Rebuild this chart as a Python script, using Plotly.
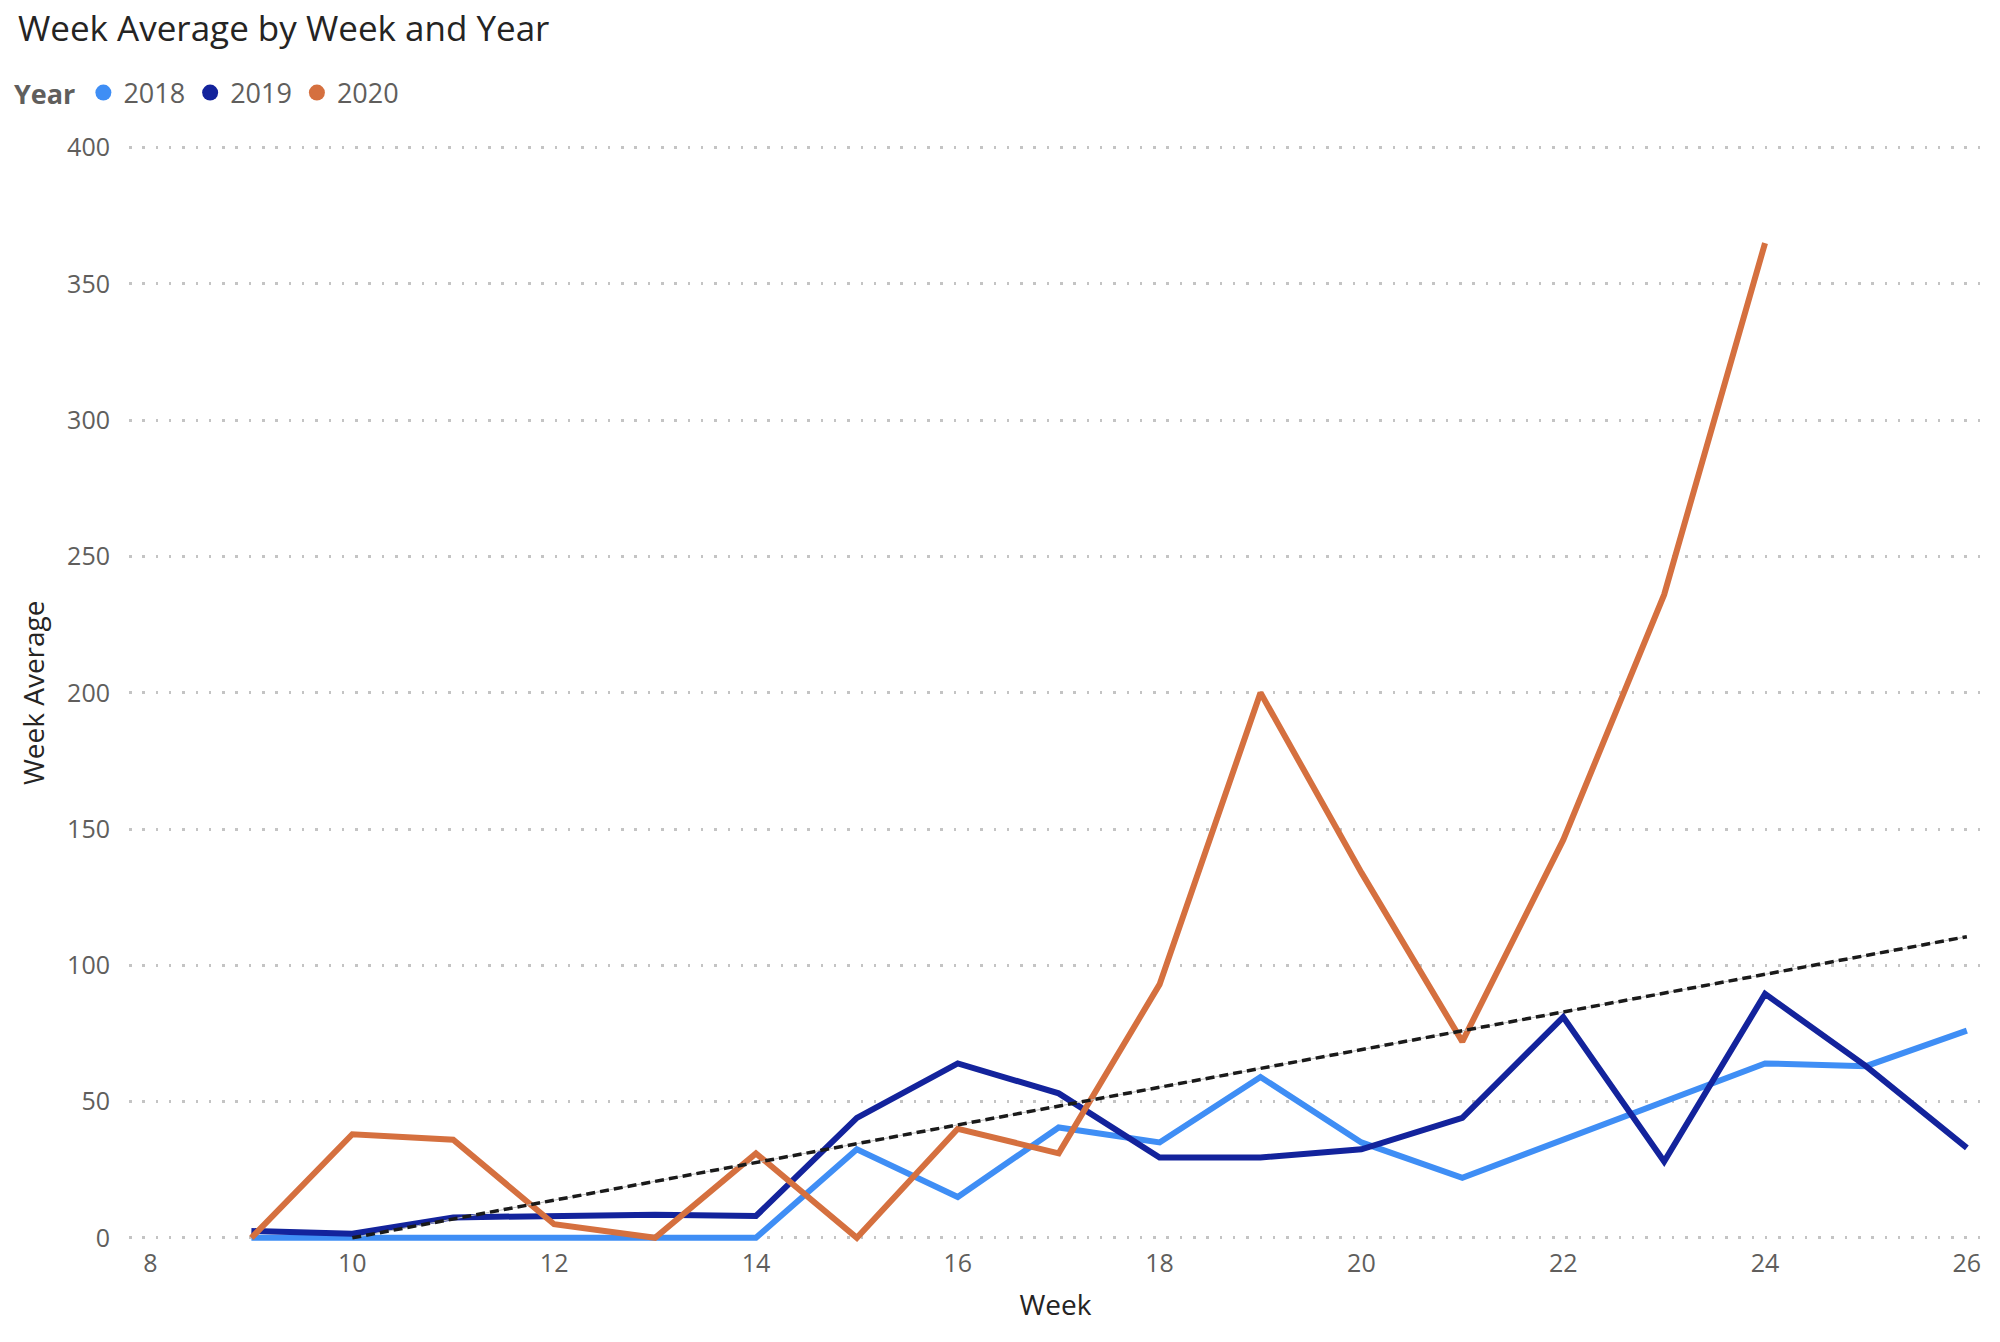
import plotly.graph_objects as go

weeks = list(range(9, 27))
y2018 = [0, 0, 0, 0, 0, 0, 32.5, 15, 40.5, 35, 59, 35, 22, 36, 50, 64, 63, 76]
y2019 = [2.5, 1.5, 7.5, 8, 8.5, 8, 44, 64, 53, 29.5, 29.5, 32.5, 44, 81, 28, 89.5, 63, 33]
weeks_2020 = list(range(9, 25))
y2020 = [0, 38, 36, 5, 0, 31, 0, 40, 31, 93, 200, 134, 72, 146, 236, 365]
trend_x = [10, 26]
trend_y = [0, 110.5]
series_names = ["2018", "2019", "2020"]
colors = ["#3F8EF5", "#13239C", "#D5703F"]

FONT = "Segoe UI, Open Sans, sans-serif"

fig = go.Figure()
data = [(weeks, y2018), (weeks, y2019), (weeks_2020, y2020)]
for (xs, ys), name, c in zip(data, series_names, colors):
    fig.add_trace(go.Scatter(x=xs, y=ys, mode="lines", name=name,
                             line=dict(color=c, width=6), showlegend=False,
                             hoverinfo="x+y"))

fig.add_trace(go.Scatter(x=trend_x, y=trend_y, mode="lines", showlegend=False,
                         line=dict(color="#BDBDBD", width=1), hoverinfo="skip"))
fig.add_trace(go.Scatter(x=trend_x, y=trend_y, mode="lines", showlegend=False,
                         line=dict(color="#1a1a1a", width=3.5, dash="9px,5px"),
                         hoverinfo="skip"))

for name, c in zip(series_names, colors):
    fig.add_trace(go.Scatter(x=[None], y=[None], mode="markers", name=name,
                             marker=dict(color=c, size=21, symbol="circle")))

fig.update_layout(
    width=2000, height=1342,
    plot_bgcolor="white", paper_bgcolor="white",
    margin=dict(l=129, r=18, t=135, b=96),
    title=dict(text="Week Average by Week and Year", x=18/2000, xanchor="left",
               xref="container", yref="container",
               y=1 - 29/1342, yanchor="middle",
               font=dict(family=FONT, size=35, color="#252423")),
    legend=dict(orientation="h", x=12/2000, xanchor="left", y=1 - 93/1342, yanchor="middle",
                xref="container", yref="container",
                title=dict(text="<b>Year</b>", font=dict(family=FONT, size=27, color="#605E5C")),
                font=dict(family=FONT, size=27, color="#605E5C"),
                itemwidth=30, tracegroupgap=0, bgcolor="rgba(0,0,0,0)"),
    showlegend=True,
    xaxis=dict(range=[7.787, 26.15], tickmode="linear", tick0=8, dtick=2,
               showgrid=False, zeroline=False, showline=False, ticks="",
               tickfont=dict(family=FONT, size=25, color="#605E5C"),
               title=dict(text="Week", font=dict(family=FONT, size=28, color="#252423"), standoff=17)),
    yaxis=dict(range=[-3, 403], tickmode="linear", tick0=0, dtick=50,
               showgrid=True, gridcolor="#C4C4C4", griddash="2.5px,10.8px", gridwidth=2.5,
               zeroline=False, showline=False, ticks="", ticklabelstandoff=18,
               tickfont=dict(family=FONT, size=25, color="#605E5C"),
               title=dict(text="Week Average", font=dict(family=FONT, size=28, color="#252423"), standoff=14)),
)

fig.write_html("out.html", config={"displayModeBar": False},
               post_script="document.body.style.margin='0px';")
